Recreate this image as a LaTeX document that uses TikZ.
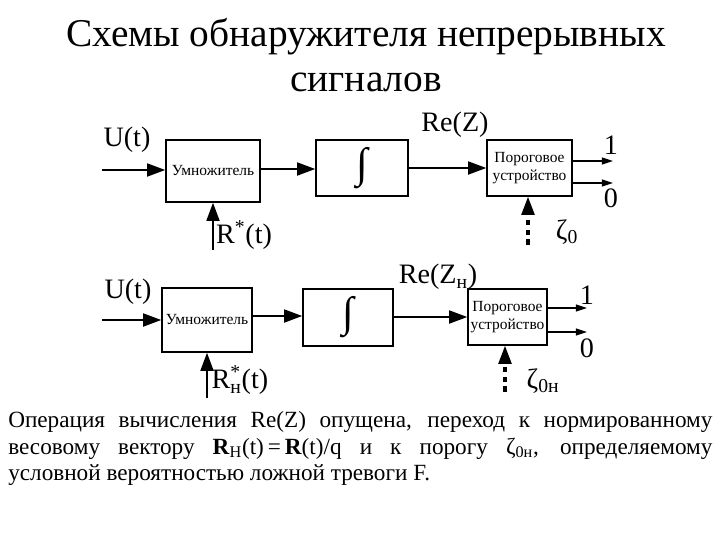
\documentclass[tikz,border=0pt]{standalone}
\usepackage{fontspec}
\setmainfont{Liberation Serif}
\usetikzlibrary{arrows.meta}
\tikzstyle{block} = [rectangle, 
draw=black, 
line width=0.8pt, 
text centered, 
inner sep=0pt, 
align=center, 
font=\fontsize{11}{13}\selectfont]
\tikzstyle{lbl} = [inner sep=0pt, 
font=\fontsize{20}{24}\selectfont]
\tikzstyle{arrow} = [line width=2pt, -{Triangle[length=13pt,width=9pt]}]
\tikzstyle{outarrow} = [line width=1pt, -{Triangle[length=8pt,width=5pt]}]
\tikzstyle{dasharrow} = [line width=2.4pt, dash pattern=on 4pt off 3pt, -{Triangle[length=13pt,width=9pt]}]

\begin{document}
\begin{tikzpicture}[x=0.025cm, y=-0.025cm]
\useasboundingbox (0,0) rectangle (720,540);

\node (title) [align=center, font=\fontsize{28}{32}\selectfont] at (366,55) {Схемы обнаружителя непрерывных\\сигналов};

% upper scheme
\node (mul1) [block, minimum width=2.35cm, minimum height=1.55cm] at (213,171) {Умножитель};
\node (int1) [block, minimum width=2.3cm, minimum height=1.4cm] at (362,168) {\fontsize{30}{32}\selectfont ∫};
\node (thr1) [block, minimum width=2.125cm, minimum height=1.4cm] at (529.5,168) {Пороговое\\устройство};

\coordinate (in1) at (102,170);
\coordinate (r1) at (213,250);
\coordinate (z1) at (528,245);
\coordinate (oa1) at (613,161);
\coordinate (ob1) at (613,183);

\node (u1) [lbl] at (127,140) {U(t)};
\node (re1) [lbl] at (455,125) {Re(Z)};
\node (one1) [lbl] at (611,145) {1};
\node (zero1) [lbl] at (611,198) {0};
\node (zeta1) [lbl] at (567,232) {ζ\textsubscript{0}};
\node (rs1) [lbl] at (244,235) {R\textsuperscript{*}(t)};

\draw [arrow] (in1) -- (in1 -| mul1.west);
\draw [arrow] (mul1.east |- 0,169) -- (int1.west |- 0,169);
\draw [arrow] (int1.east) -- (thr1.west);
\draw [outarrow] (oa1 -| thr1.east) -- (oa1);
\draw [outarrow] (ob1 -| thr1.east) -- (ob1);
\draw [arrow] (r1) -- (r1 |- mul1.south);
\draw [dasharrow] (z1) -- (z1 |- thr1.south);

% lower scheme
\node (mul2) [block, minimum width=2.25cm, minimum height=1.6cm] at (207,320) {Умножитель};
\node (int2) [block, minimum width=2.25cm, minimum height=1.425cm] at (348,317.5) {\fontsize{30}{32}\selectfont ∫};
\node (thr2) [block, minimum width=1.975cm, minimum height=1.4cm] at (507.5,317) {Пороговое\\устройство};

\coordinate (in2) at (102,320);
\coordinate (r2) at (207,398);
\coordinate (z2) at (505,392);
\coordinate (oa2) at (587,308);
\coordinate (ob2) at (587,332);

\node (u2) [lbl] at (128,292) {U(t)};
\node (re2) [lbl] at (438,277) {Re(Z\textsubscript{н})};
\node (one2) [lbl] at (587,295) {1};
\node (zero2) [lbl] at (587,348) {0};
\node (zeta2) [lbl] at (543,381) {ζ\textsubscript{0н}};
\node (rs2) [lbl] at (240,380) {R\rlap{\textsuperscript{*}}\textsubscript{н}(t)};

\draw [arrow] (in2) -- (in2 -| mul2.west);
\draw [arrow] (mul2.east |- 0,316) -- (int2.west |- 0,316);
\draw [arrow] (int2.east |- 0,317) -- (thr2.west |- 0,317);
\draw [outarrow] (oa2 -| thr2.east) -- (oa2);
\draw [outarrow] (ob2 -| thr2.east) -- (ob2);
\draw [arrow] (r2) -- (r2 |- mul2.south);
\draw [dasharrow] (z2) -- (z2 |- thr2.south);

\node (note) [anchor=north west, inner sep=0pt, text width=17.6cm, align=justify, font=\fontsize{16.5}{19}\selectfont] at (8,411) {Операция вычисления Re(Z) опущена, переход к нормированному весовому вектору \textbf{R}\textsubscript{Н}(t)\,=\,\textbf{R}(t)/q и к порогу ζ\textsubscript{0н}, определяемому\linebreak условной вероятностью ложной тревоги F.};

\end{tikzpicture}
\end{document}
